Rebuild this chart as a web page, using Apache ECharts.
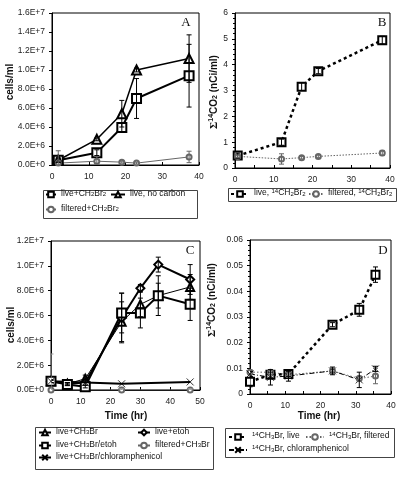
<!DOCTYPE html>
<html><head><meta charset="utf-8">
<script src="https://cdn.jsdelivr.net/npm/echarts/dist/echarts.min.js"></script>
<style>html,body{margin:0;padding:0;background:#fff}#c{width:404px;height:478px}</style>
</head><body><div id="c"></div>
<script>
// ---------- Panel A ----------
const A_time = [1.7, 12.2, 19, 23, 37.3];
const A_live = [0.5e6, 1.3e6, 3.95e6, 7.0e6, 9.4e6];
const A_liveErr = [0.25e6, 0.3e6, 0.5e6, 2.1e6, 3.3e6];
const A_noC = [0.5e6, 2.7e6, 5.4e6, 10.0e6, 11.2e6];
const A_noCErr = [0.2e6, 0.15e6, 1.4e6, 0.2e6, 2.5e6];
const A_filt = [0.2e6, 0.4e6, 0.3e6, 0.2e6, 0.85e6];
const A_filtErr = [1.3e6, 0.5e6, 0.1e6, 0.1e6, 0.6e6];
// ---------- Panel B ----------
const B_time = [0.7, 12, 17.2, 21.5, 38];
const B_live = [0.48, 1.0, 3.15, 3.75, 4.95];
const B_liveErr = [0.1, 0.12, 0.15, 0.1, 0.15];
const B_filt = [0.45, 0.35, 0.4, 0.45, 0.58];
const B_filtErr = [0.05, 0.2, 0.05, 0.05, 0.1];
// ---------- Panel C ----------
const C_time = [0, 5.5, 11.5, 23.7, 30, 36, 46.7];
const C_ch3br = [0.7e6, 0.5e6, 0.9e6, 5.5e6, 6.9e6, 7.6e6, 8.3e6];
const C_ch3brErr = [0.1e6, 0.1e6, 0.3e6, 1.6e6, 1.0e6, 1.0e6, 1.0e6];
const C_etoh = [0.7e6, 0.5e6, 0.6e6, 5.8e6, 8.2e6, 10.1e6, 8.9e6];
const C_etohErr = [0.1e6, 0.1e6, 0.2e6, 2.0e6, 0.3e6, 0.6e6, 1.2e6];
const C_ch3brEtoh = [0.7e6, 0.45e6, 0.27e6, 6.2e6, 6.2e6, 7.6e6, 6.9e6];
const C_ch3brEtohErr = [0.1e6, 0.1e6, 0.1e6, 1.6e6, 1.2e6, 1.6e6, 1.3e6];
const C_filt = [0, null, null, 0, null, null, 0];
const C_filtErr = [2.9e6, null, null, 0.1e6, null, null, 0.1e6];
const C_chlor = [0.7e6, null, 0.6e6, 0.5e6, null, null, 0.65e6];
// ---------- Panel D ----------
const D_time = [0, 5.8, 10.9, 23.4, 31, 35.6];
const D_live = [0.0048, 0.0075, 0.0078, 0.027, 0.0328, 0.0465];
const D_liveErr = [0.002, 0.001, 0.001, 0.0008, 0.0025, 0.003];
const D_filt = [0.0085, 0.0085, 0.0075, 0.009, 0.006, 0.007];
const D_filtErr = [0.001, 0.001, 0.001, 0.001, 0.001, 0.003];
const D_chlor = [0.0078, 0.0065, 0.007, 0.009, 0.0055, 0.0098];
const D_chlorErr = [0.001, 0.003, 0.002, 0.0015, 0.003, 0.001];

const FF = '"Liberation Sans", Arial, sans-serif';
const SERIF = '"Liberation Serif", "Times New Roman", serif';

function sci(v){ if (v === 0) return '0.0E+0'; const e = Math.floor(Math.log10(v) + 1e-9); return (v / Math.pow(10, e)).toFixed(1) + 'E+' + e; }

function xAx(gi, max, minor){
  return {type:'value', gridIndex:gi, min:0, max:max, interval:10,
    axisLine:{show:true, onZero:false, lineStyle:{color:'#000', width:1}},
    axisTick:{show:true, inside:true, length:3, lineStyle:{color:'#000'}},
    minorTick:{show:minor, splitNumber:2, length:3, lineStyle:{color:'#000'}},
    axisLabel:{fontSize:8.5, color:'#222', margin:7, fontFamily:FF},
    splitLine:{show:false}, minorSplitLine:{show:false}};
}
function yAx(gi, max, interval, fmt, minor){
  return {type:'value', gridIndex:gi, min:0, max:max, interval:interval,
    axisLine:{show:true, onZero:false, lineStyle:{color:'#000', width:1}},
    axisTick:{show:true, inside:false, length:3, lineStyle:{color:'#000'}},
    minorTick:{show:minor, splitNumber:5, length:2, lineStyle:{color:'#000'}},
    axisLabel:{fontSize:8.5, color:'#222', margin:7, fontFamily:FF, formatter:fmt},
    splitLine:{show:false}, minorSplitLine:{show:false}};
}
function pairs(times, vals){ return times.map((t,i)=> vals[i]==null ? null : [t, vals[i]]).filter(Boolean); }
function line(name, gi, times, vals, sym, size, lw, ltype, color){
  return {type:'line', name:name, xAxisIndex:gi, yAxisIndex:gi, data:pairs(times, vals),
    symbol:sym, symbolSize:size, showSymbol:true, z:4,
    lineStyle:{color:color||'#000', width:lw, type:ltype||'solid', cap:'butt'},
    itemStyle:{color:color||'#000', borderColor:color||'#000', borderWidth:0.8},
    emphasis:{disabled:true}, animation:false};
}
const XSYM = 'path://M0,0L10,10M10,0L0,10';
function errs(gi, times, vals, es, color){
  const data = times.map((t,i)=> (vals[i]==null || es[i]==null) ? null : [t, Math.max(0, vals[i]-es[i]), vals[i]+es[i]]).filter(Boolean);
  return {type:'custom', xAxisIndex:gi, yAxisIndex:gi, silent:true, clip:true, z:5, animation:false,
    encode:{x:0, y:[1,2]}, data:data,
    renderItem:function(params, api){
      const t = api.value(0);
      const p1 = api.coord([t, api.value(2)]), p2 = api.coord([t, api.value(1)]);
      const w = 2.5, st = {stroke:color||'#000', lineWidth:1};
      return {type:'group', children:[
        {type:'line', shape:{x1:p1[0], y1:p1[1], x2:p2[0], y2:p2[1]}, style:st},
        {type:'line', shape:{x1:p1[0]-w, y1:p1[1], x2:p1[0]+w, y2:p1[1]}, style:st},
        {type:'line', shape:{x1:p2[0]-w, y1:p2[1], x2:p2[0]+w, y2:p2[1]}, style:st}
      ]};
    }};
}

const labels = {
  'live+CH2Br2':'{n|live+CH}{b|2}{n|Br}{b|2}',
  'live, no carbon':'{n|live, no carbon}',
  'filtered+CH2Br2':'{n|filtered+CH}{b|2}{n|Br}{b|2}',
  'live, 14CH2Br2':'{n|live, }{p|14}{n|CH}{b|2}{n|Br}{b|2}',
  'filtered, 14CH2Br2':'{n|filtered, }{p|14}{n|CH}{b|2}{n|Br}{b|2}',
  'live+CH3Br':'{n|live+CH}{b|3}{n|Br}',
  'live+etoh':'{n|live+etoh}',
  'live+CH3Br/etoh':'{n|live+CH}{b|3}{n|Br/etoh}',
  'filtered+CH3Br':'{n|filtered+CH}{b|3}{n|Br}',
  'live+CH3Br/chloramphenicol':'{n|live+CH}{b|3}{n|Br/chloramphenicol}',
  '14CH3Br, live':'{p|14}{n|CH}{b|3}{n|Br, live}',
  '14CH3Br, filtered':'{p|14}{n|CH}{b|3}{n|Br, filtered}',
  '14CH3Br, chloramphenicol':'{p|14}{n|CH}{b|3}{n|Br, chloramphenicol}'
};
const rich = {
  n:{fontSize:8.5, fontFamily:FF, color:'#111', padding:[0,0,2,0]},
  b:{fontSize:6, fontFamily:FF, color:'#111'},
  p:{fontSize:6, fontFamily:FF, color:'#111', padding:[0,0,6,0]}
};
function leg(name, left, cy, iw){
  return {show:true, data:[name], left:left, top:cy-7, orient:'horizontal', padding:0, width:300,
    itemWidth:iw||12, itemHeight:7, itemGap:0, selectedMode:false,
    formatter:function(n){ return labels[n]; },
    textStyle:{fontSize:8.5, fontFamily:FF, color:'#111', rich:rich}};
}
const GRAY = '#666';

const titleRich = {
  n:{fontSize:10, fontWeight:'bold', fontFamily:FF, color:'#111', padding:[0,0,2,0]},
  s:{fontSize:11, fontWeight:'bold', fontFamily:SERIF, color:'#111', padding:[0,0,1,0]},
  p:{fontSize:7, fontWeight:'bold', fontFamily:FF, color:'#111', padding:[0,0,7,0]},
  b:{fontSize:7, fontWeight:'bold', fontFamily:FF, color:'#111'}
};
function ttl(text, x, y, rot){
  return {type:'text', x:x, y:y, rotation:rot?Math.PI/2:0, z:10,
    style:{text:text, rich:titleRich, align:'center', verticalAlign:'middle', fill:'#111', font:'bold 10px '+FF}};
}
function letter(t, x, y){
  return {type:'text', x:x, y:y, z:10, style:{text:t, font:'13px '+SERIF, fill:'#111', align:'center', verticalAlign:'middle'}};
}
function box(x, y, w, h){
  return {type:'rect', z:1, shape:{x:x+0.5, y:y+0.5, width:w, height:h}, style:{fill:'none', stroke:'#444', lineWidth:1}};
}

const grid = (l,t,w,h)=>({left:l, top:t, width:w, height:h, show:true, borderColor:'#000', borderWidth:1, backgroundColor:'transparent', containLabel:false, outerBoundsMode:'none'});

const option = {
  animation:false,
  backgroundColor:'#fff',
  grid:[grid(52,13,147,152), grid(235,13,155,155), grid(51,241,149,149), grid(250,240,141,154)],
  xAxis:[xAx(0,40,false), xAx(1,40,true), xAx(2,50,false), xAx(3,40,true)],
  yAxis:[yAx(0,1.6e7,2e6,sci,false), yAx(1,6,1,null,true), yAx(2,1.2e7,2e6,sci,false),
         yAx(3,0.06,0.01,function(v){ return v===0 ? '0' : v.toFixed(2); },true)],
  legend:[
    leg('live+CH2Br2', 45, 196, 10),
    leg('live, no carbon', 110, 196, 14),
    leg('filtered+CH2Br2', 45, 211, 10),
    leg('live, 14CH2Br2', 230, 195, 18),
    leg('filtered, 14CH2Br2', 308, 195, 14),
    leg('live+CH3Br', 38, 434),
    leg('live+etoh', 137, 434),
    leg('live+CH3Br/etoh', 38, 447),
    leg('filtered+CH3Br', 137, 447),
    leg('live+CH3Br/chloramphenicol', 38, 459),
    leg('14CH3Br, live', 228, 438, 18),
    leg('14CH3Br, filtered', 305, 438, 18),
    leg('14CH3Br, chloramphenicol', 228, 451, 18)
  ],
  series:[
    line('live+CH2Br2', 0, A_time, A_live, 'emptyRect', 9, 2),
    line('live, no carbon', 0, A_time, A_noC, 'emptyTriangle', 9, 1.5),
    line('filtered+CH2Br2', 0, A_time, A_filt, 'emptyCircle', 5, 1, 'solid', GRAY),
    errs(0, A_time, A_live, A_liveErr), errs(0, A_time, A_noC, A_noCErr), errs(0, A_time, A_filt, A_filtErr, GRAY),

    line('live, 14CH2Br2', 1, B_time, B_live, 'emptyRect', 8, 2.5, [3,3]),
    line('filtered, 14CH2Br2', 1, B_time, B_filt, 'emptyCircle', 5, 1, [1.5,1.5], GRAY),
    errs(1, B_time, B_live, B_liveErr), errs(1, B_time, B_filt, B_filtErr, GRAY),

    line('live+CH3Br', 2, C_time, C_ch3br, 'emptyTriangle', 8, 1),
    line('live+etoh', 2, C_time, C_etoh, 'emptyDiamond', 8, 2),
    line('live+CH3Br/etoh', 2, C_time, C_ch3brEtoh, 'emptyRect', 9, 2),
    line('filtered+CH3Br', 2, C_time, C_filt, 'emptyCircle', 5, 1, 'solid', GRAY),
    line('live+CH3Br/chloramphenicol', 2, C_time, C_chlor, XSYM, 7, 2),
    errs(2, C_time, C_ch3br, C_ch3brErr), errs(2, C_time, C_etoh, C_etohErr),
    errs(2, C_time, C_ch3brEtoh, C_ch3brEtohErr), errs(2, C_time, C_filt, C_filtErr, '#999'),

    line('14CH3Br, live', 3, D_time, D_live, 'emptyRect', 8, 2.5, [3,3]),
    line('14CH3Br, filtered', 3, D_time, D_filt, 'emptyCircle', 5, 1, [1.5,2], GRAY),
    line('14CH3Br, chloramphenicol', 3, D_time, D_chlor, XSYM, 7, 1, [5,2,1,2]),
    errs(3, D_time, D_live, D_liveErr), errs(3, D_time, D_filt, D_filtErr, GRAY), errs(3, D_time, D_chlor, D_chlorErr)
  ],
  graphic:[
    box(43,190,154,28), box(228,188,168,13), box(35,427,178,42), box(225,428,169,29),
    ttl('{n|cells/ml}', 11, 82, true),
    ttl('{n|cells/ml}', 12, 325, true),
    ttl('{s|Σ}{p|14}{n|CO}{b|2}{n| (nCi/ml)}', 215, 92, true),
    ttl('{s|Σ}{p|14}{n|CO}{b|2}{n| (nCi/ml)}', 213, 300, true),
    ttl('{n|Time (hr)}', 126, 417, false),
    ttl('{n|Time (hr)}', 319, 417, false),
    letter('A', 186, 23), letter('B', 382, 23), letter('C', 190, 251), letter('D', 383, 251)
  ]
};
const chart = echarts.init(document.getElementById('c'), null, {renderer:'canvas'});
chart.setOption(option);
</script>
</body></html>
